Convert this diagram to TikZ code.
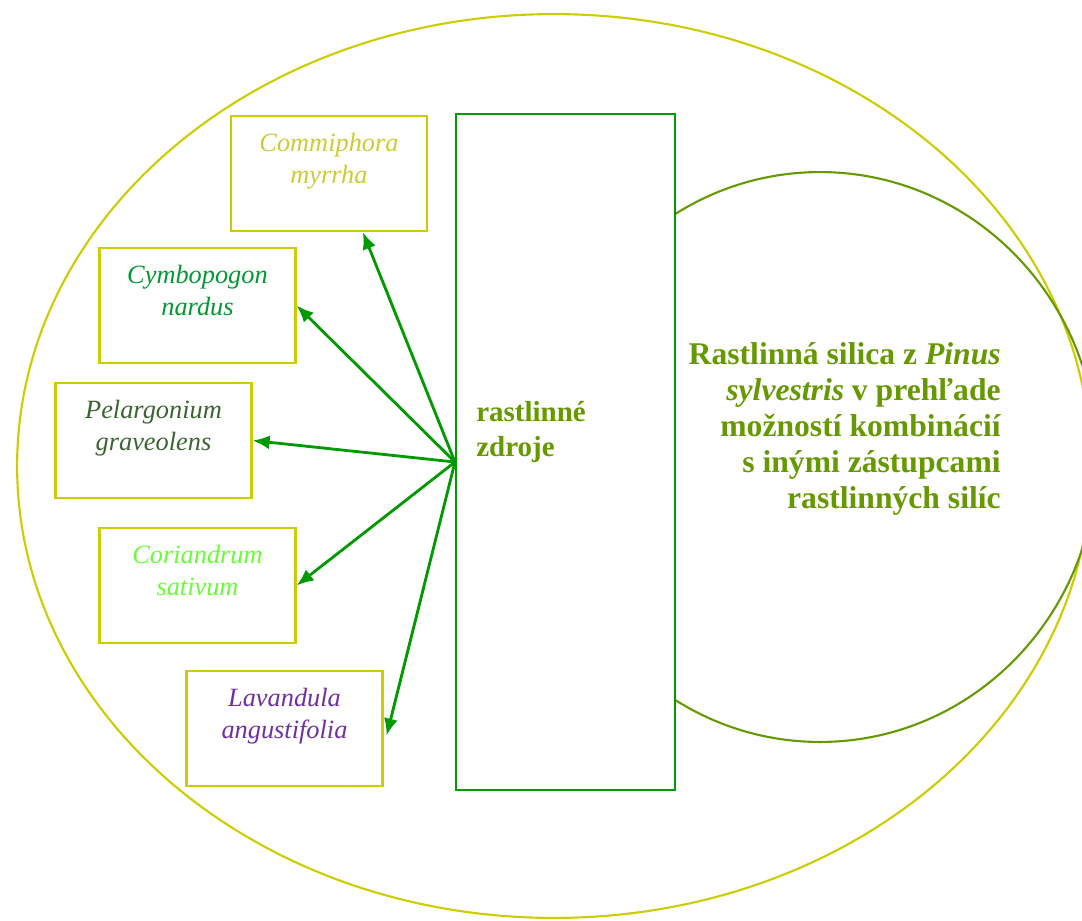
\documentclass[tikz,border=0pt]{standalone}
\usepackage{fontspec}
\setmainfont{Liberation Serif}
\usetikzlibrary{arrows.meta,calc,positioning}
\definecolor{RimClr}{RGB}{204,204,0}
\definecolor{SunClr}{RGB}{102,153,0}
\definecolor{SrcClr}{RGB}{0,153,0}
\definecolor{MyrClr}{RGB}{204,204,51}
\definecolor{NarClr}{RGB}{0,153,51}
\definecolor{GerClr}{RGB}{60,100,50}
\definecolor{CorClr}{RGB}{102,255,51}
\definecolor{LavClr}{RGB}{112,48,160}

\tikzset{
  pbox/.style={draw=RimClr,line width=1.3pt,fill=white,minimum width=3.92cm,minimum height=2.3cm},
  pname/.style={font=\fontsize{15}{18.2}\selectfont\itshape,align=center,inner sep=0pt},
  flow/.style={draw=SrcClr,line width=1.6pt,-{Latex[length=3.4mm,width=2.8mm]}}
}

\begin{document}
\begin{tikzpicture}[x=0.02cm,y=-0.02cm]
\useasboundingbox (0,0) rectangle (1082,920);
\clip (0,0) rectangle (1082,920);

% outer ring and the pine circle
\draw[RimClr,line width=1.2pt] (554,466) ellipse [x radius=10.74cm,y radius=9.04cm];
\draw[SunClr,line width=1.2pt] (820,457) ellipse [x radius=5.54cm,y radius=5.7cm];

\node[draw=SrcClr,line width=1.2pt,fill=white,minimum width=4.38cm,minimum height=13.52cm] (rz) at (565.5,452) {};
\node[anchor=west,font=\fontsize{16.5}{20}\selectfont\bfseries,text=SunClr,align=left,inner sep=0pt] (rzt) at ($(rz.west)+(21,-20)$) {rastlinné\\zdroje};

\node[anchor=east,font=\fontsize{18}{20.5}\selectfont\bfseries,text=SunClr,align=right,inner sep=0pt] (pinus) at (1001,429)
  {Rastlinná silica z \textit{Pinus}\\\textit{sylvestris} v prehľade\\možností kombinácií\\s inými zástupcami\\rastlinných silíc};

% the five plant boxes
\node[pbox] (cm) at (329,173.5) {};
\node[pbox] (cy) at (197.5,305.5) {};
\node[pbox] (pg) at (153.5,440.5) {};
\node[pbox] (co) at (197.5,585.5) {};
\node[pbox] (lv) at (284.5,728.5) {};

\node[pname,text=MyrClr,below=0.36cm of cm.north] (cmt) {Commiphora\\myrrha};
\node[pname,text=NarClr,below=0.36cm of cy.north] (cyt) {Cymbopogon\\nardus};
\node[pname,text=GerClr,below=0.36cm of pg.north] (pgt) {Pelargonium\\graveolens};
\node[pname,text=CorClr,below=0.36cm of co.north] (cot) {Coriandrum\\sativum};
\node[pname,text=LavClr,below=0.36cm of lv.north] (lvt) {Lavandula\\angustifolia};

% arrows out of the source box
\coordinate (src) at ($(rz.west)+(0,10)$);
\draw[flow] (src) -- (cm.-60);
\draw[flow] (src) -- (cy.east);
\draw[flow] (src) -- (pg.east);
\draw[flow] (src) -- (co.east);
\draw[flow] (src) -- ($(lv.east)+(3,7)$);

\end{tikzpicture}
\end{document}
